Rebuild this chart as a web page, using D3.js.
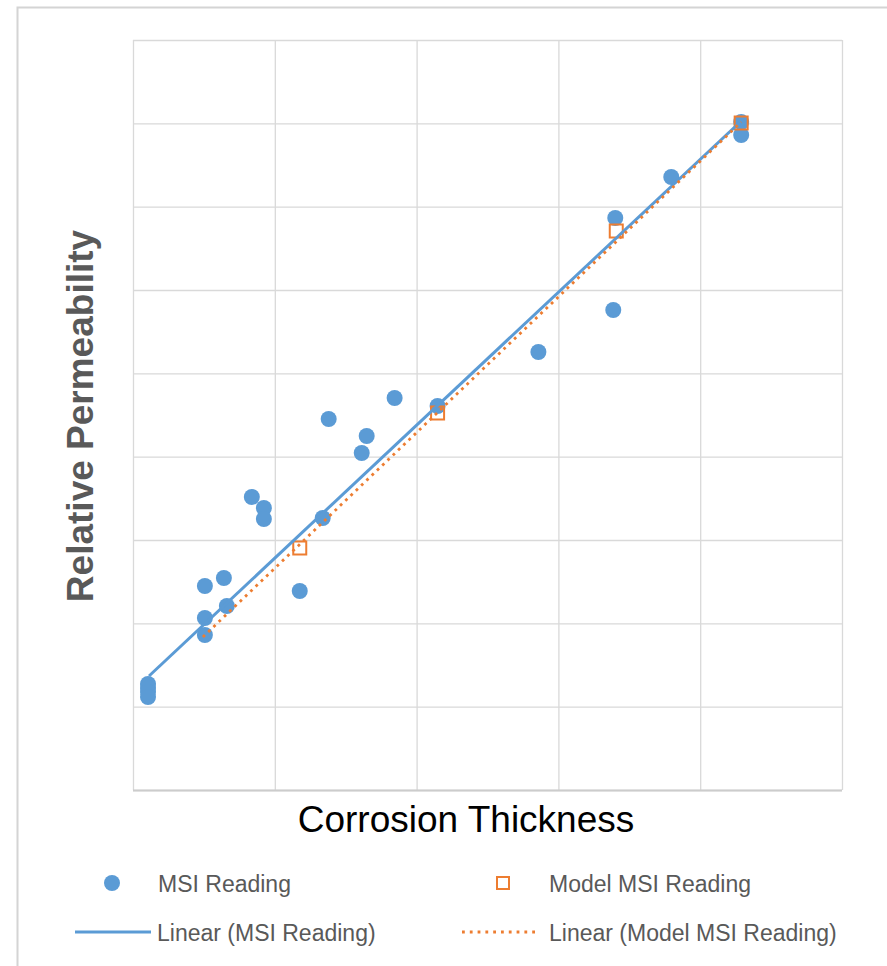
<!DOCTYPE html>
<html>
<head>
<meta charset="utf-8">
<script src="https://cdn.jsdelivr.net/npm/d3@7"></script>
<style>
  html, body { margin: 0; padding: 0; background: #fff; }
  svg { display: block; }
</style>
</head>
<body>
<svg id="chart" width="887" height="966"></svg>
<script>
// ---- data (axis units are unlabeled grid units) ----
const msiX = [0.106, 0.106, 0.106, 0.106, 0.507, 0.641, 0.507, 0.662, 0.507, 1.176,
              0.838, 0.923, 0.923, 1.338, 1.380, 1.613, 1.648, 1.845, 2.148, 2.859,
              3.387, 3.401, 3.796, 4.289, 4.289];
const msiY = [1.272, 1.224, 1.176, 1.116, 2.448, 2.544, 2.064, 2.208, 1.860, 2.388,
              3.516, 3.384, 3.252, 3.264, 4.452, 4.044, 4.248, 4.704, 4.608, 5.256,
              5.760, 6.864, 7.356, 7.860, 8.016];
const modelX = [1.176, 2.148, 3.408, 4.289];
const modelY = [2.904, 4.524, 6.708, 8.004];
// trendline end points
const trendMsiX = [0.113, 4.289];
const trendMsiY = [1.368, 8.028];
const trendModelX = [0.493, 4.289];
const trendModelY = [1.836, 8.016];
const xTicks = [0, 1, 2, 3, 4, 5];
const yTicks = [0, 1, 2, 3, 4, 5, 6, 7, 8, 9];
const legendLabels = ["MSI Reading", "Model MSI Reading", "Linear (MSI Reading)", "Linear (Model MSI Reading)"];

(function () {
const blue = "#5B9BD5", orange = "#ED7D31", grid = "#d9d9d9";
const svg = d3.select("#chart");

// outer frame (screenshot border)
svg.append("rect").attr("x", 17.5).attr("y", 7.5).attr("width", 900).attr("height", 1000)
  .attr("fill", "none").attr("stroke", "#d4d4d4").attr("stroke-width", 2);

const pL = 133, pR = 842, pT = 40, pB = 790;
const x = d3.scaleLinear().domain([0, 5]).range([pL, pR]);
const y = d3.scaleLinear().domain([0, 9]).range([pB, pT]);

// gridlines via axes
svg.append("g").attr("transform", `translate(0,${pB})`)
  .call(d3.axisBottom(x).tickValues(xTicks).tickSize(-(pB - pT)).tickFormat(""))
  .call(g => g.select(".domain").remove())
  .call(g => g.selectAll("line").attr("stroke", grid).attr("stroke-width", 1.3));
svg.append("g").attr("transform", `translate(${pL},0)`)
  .call(d3.axisLeft(y).tickValues(yTicks).tickSize(-(pR - pL)).tickFormat(""))
  .call(g => g.select(".domain").remove())
  .call(g => g.selectAll("line").attr("stroke", grid).attr("stroke-width", 1.3));
svg.append("line").attr("x1", pL).attr("x2", pR).attr("y1", pB + 0.5).attr("y2", pB + 0.5)
  .attr("stroke", "#cccccc").attr("stroke-width", 2);

// MSI points
svg.append("g").selectAll("circle").data(msiX.map((d, i) => [d, msiY[i]])).join("circle")
  .attr("cx", d => x(d[0])).attr("cy", d => y(d[1])).attr("r", 8).attr("fill", blue);

// Model squares
const sq = 13;
svg.append("g").selectAll("rect").data(modelX.map((d, i) => [d, modelY[i]])).join("rect")
  .attr("x", d => x(d[0]) - sq / 2).attr("y", d => y(d[1]) - sq / 2)
  .attr("width", sq).attr("height", sq)
  .attr("fill", "none").attr("stroke", orange).attr("stroke-width", 2);

// trendlines
const line = d3.line().x(d => x(d[0])).y(d => y(d[1]));
svg.append("path").datum(trendMsiX.map((d, i) => [d, trendMsiY[i]]))
  .attr("d", line).attr("fill", "none").attr("stroke", blue).attr("stroke-width", 3);
svg.append("path").datum(trendModelX.map((d, i) => [d, trendModelY[i]]))
  .attr("d", line).attr("fill", "none").attr("stroke", orange).attr("stroke-width", 2.8)
  .attr("stroke-dasharray", "2.8,4.5");

// axis titles
svg.append("text").attr("x", 466).attr("y", 832).attr("text-anchor", "middle")
  .attr("font-family", "Liberation Sans, Arial, sans-serif").attr("font-size", 37)
  .attr("fill", "#000").text("Corrosion Thickness");
svg.append("text").attr("transform", "translate(93,416) rotate(-90)").attr("text-anchor", "middle")
  .attr("font-family", "Liberation Sans, Arial, sans-serif").attr("font-size", 37)
  .attr("font-weight", "bold").attr("fill", "#595959").text("Relative Permeability");

// legend
const lg = svg.append("g").attr("font-family", "Liberation Sans, Arial, sans-serif")
  .attr("font-size", 23).attr("fill", "#595959");
lg.append("circle").attr("cx", 112).attr("cy", 883).attr("r", 8).attr("fill", blue);
lg.append("text").attr("x", 158).attr("y", 892).text(legendLabels[0]);
lg.append("rect").attr("x", 497).attr("y", 877).attr("width", 12).attr("height", 12)
  .attr("fill", "none").attr("stroke", orange).attr("stroke-width", 2);
lg.append("text").attr("x", 549).attr("y", 892).text(legendLabels[1]);
lg.append("line").attr("x1", 75).attr("x2", 151).attr("y1", 932).attr("y2", 932)
  .attr("stroke", blue).attr("stroke-width", 3);
lg.append("text").attr("x", 157).attr("y", 941).text(legendLabels[2]);
lg.append("line").attr("x1", 462).attr("x2", 535).attr("y1", 932).attr("y2", 932)
  .attr("stroke", orange).attr("stroke-width", 2.8).attr("stroke-dasharray", "2.8,5");
lg.append("text").attr("x", 549).attr("y", 941).text(legendLabels[3]);
})();
</script>
</body>
</html>
